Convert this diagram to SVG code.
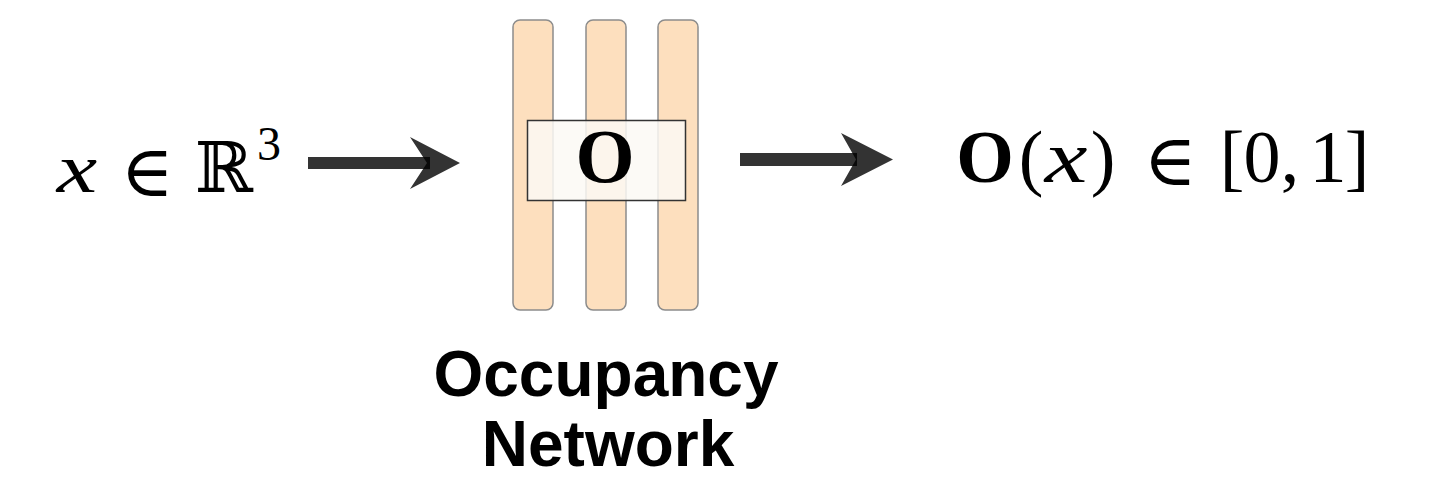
<svg xmlns="http://www.w3.org/2000/svg" width="1430" height="480" viewBox="0 0 1430 480">
  <style>
    .math { font-family: "Liberation Serif", "DejaVu Serif", serif; fill: #000; text-anchor: middle; }
    .sym { font-family: "DejaVu Serif", "Liberation Serif", serif; fill: #000; text-anchor: middle; }
    .it { font-style: italic; }
    .bold { font-weight: bold; }
    .layer { fill: #fddfbe; stroke: #8c8c8c; stroke-width: 1.5; }
    .arrow { fill: #000; fill-opacity: 0.8; }
    .label { font-family: "Liberation Sans", Arial, sans-serif; font-weight: bold; font-size: 64px; fill: #000; text-anchor: middle; }
  </style>
  <rect width="1430" height="480" fill="#fff"/>

  <!-- input: x in R^3 -->
  <g id="input">
    <text class="math it" transform="translate(77,192) scale(1.3,1)" font-size="70">x</text>
    <text class="sym" x="147" y="196" font-size="72">∈</text>
    <text class="sym" x="224" y="192" font-size="70">ℝ</text>
    <text class="math" x="269" y="160" font-size="48">3</text>
  </g>

  <!-- network: three layers with the occupancy function box -->
  <g id="network">
    <rect class="layer" x="513" y="20" width="40" height="290" rx="7"/>
    <rect class="layer" x="586" y="20" width="40" height="290" rx="7"/>
    <rect class="layer" x="658" y="20" width="40" height="290" rx="7"/>
    <rect x="527.5" y="120.5" width="158" height="80" fill="#fcf9f5" fill-opacity="0.85" stroke="#333" stroke-width="1.5"/>
    <text class="math bold" x="605" y="182" font-size="76">O</text>
  </g>

  <!-- output: O(x) in [0,1] -->
  <g id="output">
    <text class="math bold" x="985" y="182" font-size="74">O</text>
    <text class="math" x="1031" y="182" font-size="74">(</text>
    <text class="math it" transform="translate(1066,182) scale(1.3,1)" font-size="74">x</text>
    <text class="math" x="1103" y="182" font-size="74">)</text>
    <text class="sym" x="1170" y="185" font-size="72">∈</text>
    <text class="math" x="1232" y="182" font-size="74">[</text>
    <text class="math" x="1262" y="182" font-size="74">0</text>
    <text class="math" x="1290" y="182" font-size="74">,</text>
    <text class="math" x="1328" y="182" font-size="74">1</text>
    <text class="math" x="1357" y="182" font-size="74">]</text>
  </g>

  <!-- caption under the network -->
  <g id="caption">
    <text class="label" x="606" y="396">Occupancy</text>
    <text class="label" x="608" y="466">Network</text>
  </g>

  <!-- connectors -->
  <g id="connectors">
    <rect class="arrow" x="308" y="157" width="122" height="12"/>
    <polygon class="arrow" points="410,137 460,163 410,189 427,163"/>
    <rect class="arrow" x="740" y="153" width="117" height="13"/>
    <polygon class="arrow" points="841,133 893,159.5 841,186 856,159.5"/>
  </g>
</svg>
